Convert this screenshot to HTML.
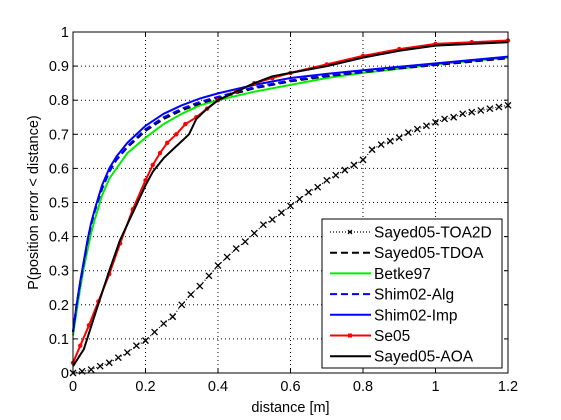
<!DOCTYPE html>
<html><head><meta charset="utf-8"><style>
html,body{margin:0;padding:0;background:#fff;}
svg{display:block;font-family:"Liberation Sans",Arial,sans-serif;}
</style></head><body>
<svg id="c" width="561" height="420"></svg>
<script>
const xTicks=[0,0.2,0.4,0.6,0.8,1,1.2];
const xTickLabels=["0","0.2","0.4","0.6","0.8","1","1.2"];
const yTicks=[0,0.1,0.2,0.3,0.4,0.5,0.6,0.7,0.8,0.9,1];
const yTickLabels=["0","0.1","0.2","0.3","0.4","0.5","0.6","0.7","0.8","0.9","1"];
const xsA=[0,0.01,0.02,0.03,0.04,0.05,0.06,0.08,0.1,0.12,0.15,0.2,0.25,0.3,0.35,0.4,0.5,0.6,0.7,0.8,0.9,1.0,1.1,1.2];
const shimImp=[0.12,0.2,0.27,0.33,0.39,0.44,0.48,0.55,0.6,0.635,0.675,0.725,0.76,0.785,0.805,0.82,0.845,0.865,0.877,0.888,0.898,0.908,0.918,0.928];
const shimAlg=[0.12,0.2,0.265,0.325,0.385,0.435,0.475,0.54,0.59,0.625,0.665,0.715,0.75,0.775,0.795,0.81,0.838,0.858,0.872,0.884,0.895,0.905,0.915,0.925];
const tdoa=[0.12,0.2,0.265,0.325,0.385,0.435,0.475,0.54,0.59,0.625,0.662,0.71,0.745,0.77,0.79,0.806,0.835,0.855,0.87,0.882,0.893,0.903,0.913,0.923];
const betke=[0.11,0.18,0.25,0.31,0.36,0.41,0.45,0.52,0.57,0.6,0.645,0.69,0.73,0.76,0.785,0.8,0.825,0.845,0.865,0.88,0.892,0.905,0.915,0.925];
const xsR=[0,0.02,0.044,0.07,0.1,0.13,0.165,0.2,0.22,0.24,0.26,0.285,0.31,0.34,0.37,0.4,0.45,0.5,0.55,0.6,0.7,0.8,0.9,1.0,1.1,1.2];
const se05=[0.03,0.08,0.14,0.21,0.29,0.38,0.48,0.565,0.61,0.645,0.675,0.70,0.73,0.75,0.775,0.8,0.825,0.85,0.865,0.88,0.905,0.93,0.95,0.965,0.97,0.975];
const xsB=[0,0.03,0.06,0.1,0.13,0.165,0.2,0.22,0.25,0.28,0.3,0.32,0.34,0.37,0.4,0.45,0.5,0.55,0.6,0.7,0.8,0.9,1.0,1.1,1.2];
const aoa=[0.02,0.07,0.17,0.3,0.39,0.47,0.55,0.59,0.63,0.66,0.68,0.70,0.745,0.775,0.8,0.825,0.85,0.87,0.88,0.9,0.925,0.945,0.96,0.965,0.97];
const xsT=[0,0.025,0.05,0.075,0.1,0.125,0.15,0.175,0.2,0.225,0.25,0.275,0.3,0.325,0.35,0.375,0.4,0.425,0.45,0.475,0.5,0.525,0.55,0.575,0.6,0.625,0.65,0.675,0.7,0.725,0.75,0.775,0.8,0.825,0.85,0.875,0.9,0.925,0.95,0.975,1.0,1.025,1.05,1.075,1.1,1.125,1.15,1.175,1.2];
const toa2d=[0,0.005,0.01,0.02,0.03,0.045,0.06,0.08,0.095,0.12,0.145,0.165,0.2,0.23,0.255,0.285,0.315,0.34,0.365,0.385,0.41,0.435,0.45,0.47,0.49,0.51,0.53,0.545,0.565,0.58,0.595,0.61,0.625,0.655,0.67,0.68,0.69,0.705,0.715,0.725,0.735,0.745,0.75,0.76,0.765,0.77,0.775,0.78,0.785];

const L=73,R=508,T=32,B=373;
const X=v=>L+(v-0)/(1.2)*(R-L);
const Y=v=>B-v*(B-T);
const svg=document.getElementById('c');
const NS='http://www.w3.org/2000/svg';
function mk(tag,at,parent){const e=document.createElementNS(NS,tag);for(const k in at)e.setAttribute(k,at[k]);(parent||svg).appendChild(e);return e;}

xTicks.forEach((t,i)=>{
  if(i>0&&i<xTicks.length-1){const g=mk('line',{x1:X(t),x2:X(t),y1:T,y2:B,stroke:'#000','stroke-width':1,'stroke-dasharray':'1,3'});
  
  }
  const tk=mk('line',{x1:X(t),x2:X(t),y1:B,y2:B-4,stroke:'#000'});
  
  
  const tk2=mk('line',{x1:X(t),x2:X(t),y1:T,y2:T+4,stroke:'#000'});
  
  
  const tx=mk('text',{x:X(t),y:B+18,'text-anchor':'middle','font-size':14.5});
  tx.textContent=xTickLabels[i];
  
  
});
yTicks.forEach((t,i)=>{
  if(i>0&&i<yTicks.length-1){const g=mk('line',{x1:L,x2:R,y1:Y(t),y2:Y(t),stroke:'#000','stroke-width':1,'stroke-dasharray':'1,3'});
  
  }
  const tk=mk('line',{x1:L,x2:L+4,y1:Y(t),y2:Y(t),stroke:'#000'});
  
  
  const tk2=mk('line',{x1:R,x2:R-4,y1:Y(t),y2:Y(t),stroke:'#000'});
  
  
  const tx=mk('text',{x:L-4,y:Y(t)+5,'text-anchor':'end','font-size':14.5});
  tx.textContent=yTickLabels[i];
  
  
});

function series(name,xs,ys,color,dash,width){
  const d=xs.map((x,i)=>(i?'L':'M')+X(x).toFixed(1)+','+Y(ys[i]).toFixed(1)).join('');
  const p=mk('path',{d:d,fill:'none',stroke:color,'stroke-width':width,'stroke-dasharray':dash||'none','stroke-linejoin':'round'});
  
  
  return p;
}
series('series-toa2d',xsT,toa2d,'#000','1,2',1.2);
xsT.forEach((x,i)=>{
  const cx=X(x),cy=Y(toa2d[i]);
  const m=mk('path',{d:`M${cx-3},${cy-3}L${cx+3},${cy+3}M${cx-3},${cy+3}L${cx+3},${cy-3}`,stroke:'#000','stroke-width':1.3});
  
  
});
series('series-betke97',xsA,betke,'#00ee00','',2);
series('series-tdoa',xsA,tdoa,'#000','7,4',2);
series('series-shim02-alg',xsA,shimAlg,'#0000ff','7,4',2);
series('series-shim02-imp',xsA,shimImp,'#0000ff','',2);
series('series-se05',xsR,se05,'#ff0000','',2);
xsR.forEach((x,i)=>{
  const m=mk('circle',{cx:X(x),cy:Y(se05[i]),r:2.2,fill:'#ff0000'});
  
  
});
series('series-aoa',xsB,aoa,'#000','',2);

const fr=mk('rect',{x:L,y:T,width:R-L,height:B-T,fill:'none',stroke:'#000','stroke-width':1});



const xl=mk('text',{x:X(0.6),y:412,'text-anchor':'middle','font-size':14.5});
xl.textContent='distance [m]';


const yl=mk('text',{x:0,y:0,'text-anchor':'middle','font-size':14.5,transform:`translate(38,${(T+B)/2}) rotate(-90)`});
yl.textContent='P(position error < distance)';



const lg=mk('g',{});


mk('rect',{x:322,y:219,width:180,height:149,fill:'#fff',stroke:'#000'},lg);
const items=[
 ['Sayed05-TOA2D','#000','1,2','x'],
 ['Sayed05-TDOA','#000','7,4',''],
 ['Betke97','#00ee00','',''],
 ['Shim02-Alg','#0000ff','7,4',''],
 ['Shim02-Imp','#0000ff','',''],
 ['Se05','#ff0000','','o'],
 ['Sayed05-AOA','#000','','']];
items.forEach((it,i)=>{
  const y=232+i*20.7;
  const g=mk('g',{},lg);
  
  
  mk('line',{x1:330,x2:371,y1:y,y2:y,stroke:it[1],'stroke-width':it[2]==='1,2'?1.2:2,'stroke-dasharray':it[2]||'none'},g);
  if(it[3]==='x')mk('path',{d:`M348,${y-2}L352,${y+2}M348,${y+2}L352,${y-2}`,stroke:'#000','stroke-width':1.2},g);
  if(it[3]==='o')mk('rect',{x:348,y:y-2,width:4,height:4,fill:'#ff0000'},g);
  const t=mk('text',{x:374,y:y+5.5,'font-size':15.5},g);
  t.textContent=it[0];
});
</script>
</body></html>
